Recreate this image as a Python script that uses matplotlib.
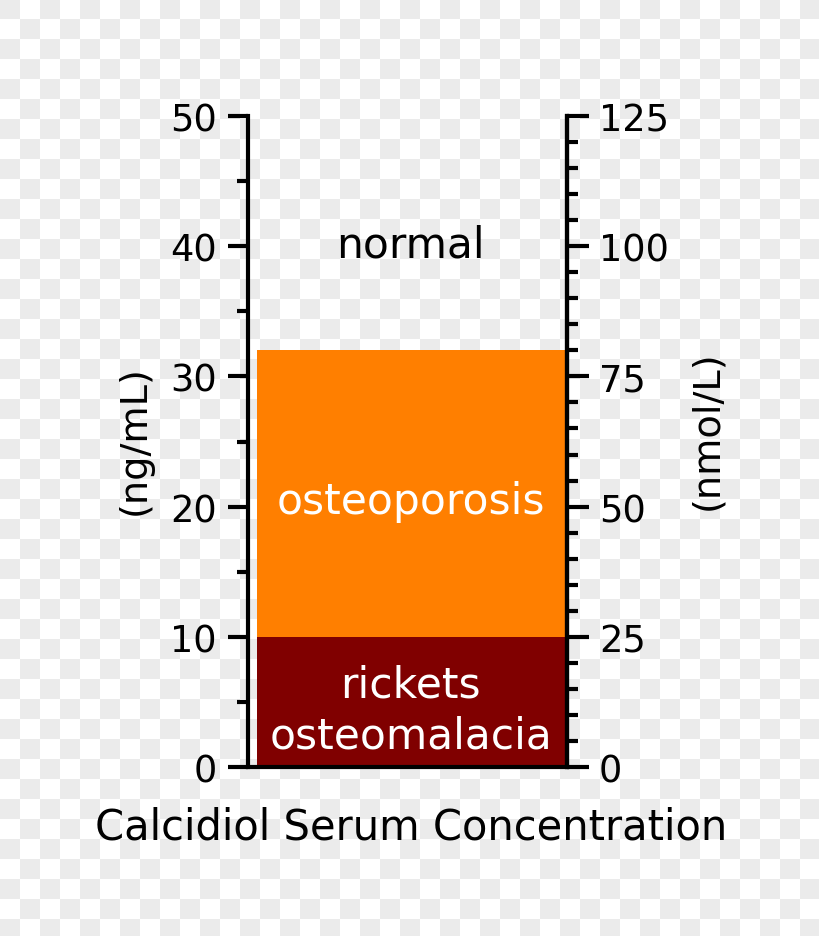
import numpy as np
import matplotlib
matplotlib.use("Agg")
import matplotlib.pyplot as plt
from matplotlib.ticker import MultipleLocator

# zones in ng/mL
zone_names = ["rickets\nosteomalacia", "osteoporosis", "normal"]
zone_low = [0, 10, 32]
zone_high = [10, 32, 50]
zone_colors = ["#800000", "#ff7f00", None]
zone_text_colors = ["white", "white", "black"]
zone_label_y = [4.4, 20.4, 40.1]

ng_ticks = [0, 10, 20, 30, 40, 50]
nmol_ticks = [0, 25, 50, 75, 100, 125]
NG_TO_NMOL = 2.5

W, H = 820, 937
fig = plt.figure(figsize=(W / 100, H / 100), dpi=100)
fig.patch.set_facecolor("white")

# checkered "transparent" background like the reference
yy, xx = np.mgrid[0:H, 0:W]
checker = ((xx // 20 + yy // 20) % 2 == 0)
bg = np.ones((H, W, 3))
bg[checker] = 0.925
fig.figimage(bg, xo=0, yo=0, origin="upper", zorder=-10)

ax = fig.add_axes([248 / W, 1 - 768 / H, (567 - 248) / W, (768 - 117) / H])
ax.set_facecolor("none")
ax.set_xlim(0, 1)
ax.set_ylim(0, 50)

for name, lo, hi, c, tc, ty in zip(zone_names, zone_low, zone_high, zone_colors,
                                   zone_text_colors, zone_label_y):
    if c is not None:
        ax.bar(0.028, hi - lo, width=0.972, bottom=lo, align="edge", color=c, zorder=1)
    ax.text(0.51, ty, name, ha="center", va="center",
            color=tc, fontsize=30.5, linespacing=1.26, zorder=3)

ax.spines["top"].set_visible(False)
for s in ["left", "right", "bottom"]:
    ax.spines[s].set_linewidth(3)
ax.spines["left"].set_zorder(4)

ax.set_xticks([])
ax.set_yticks(ng_ticks)
ax.yaxis.set_minor_locator(MultipleLocator(5))
ax.tick_params(axis="y", which="major", length=14.5, width=3, labelsize=26.5, pad=8)
ax.tick_params(axis="y", which="minor", length=8, width=3)

ax2 = ax.twinx()
ax2.set_ylim(0, 50 * NG_TO_NMOL)
ax2.set_yticks(nmol_ticks)
ax2.yaxis.set_minor_locator(MultipleLocator(5))
ax2.tick_params(axis="y", which="major", length=16, width=3, labelsize=26.5, pad=7)
ax2.tick_params(axis="y", which="minor", length=8, width=3)
for s in ["top", "left", "bottom"]:
    ax2.spines[s].set_visible(False)
ax2.spines["right"].set_linewidth(3)

ax.text(-0.354, 0.504, "(ng/mL)", rotation=90, ha="center", va="center",
        fontsize=27.5, transform=ax.transAxes)
ax.text(1.439, 0.519, "(nmol/L)", rotation=90, ha="center", va="center",
        fontsize=27.5, transform=ax.transAxes)
ax.text(0.511, -0.092, "Calcidiol Serum Concentration", ha="center", va="center",
        fontsize=30, transform=ax.transAxes, clip_on=False)

fig.savefig("out.png", dpi=100, facecolor=fig.get_facecolor())
